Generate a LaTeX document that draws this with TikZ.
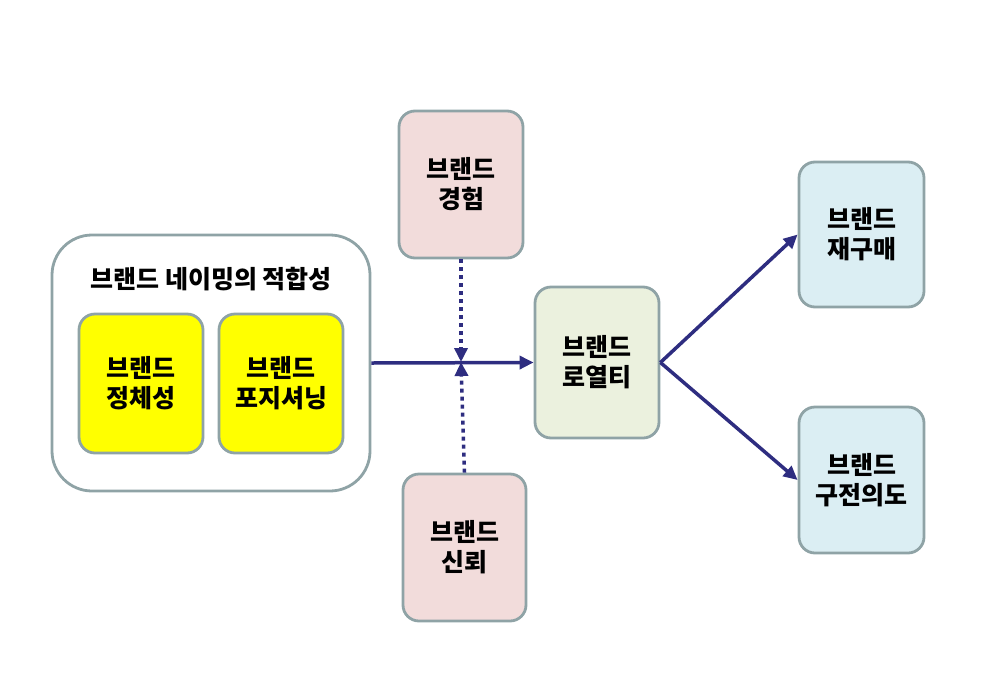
\documentclass[tikz,border=0pt]{standalone}
\usepackage{fontspec}
\setmainfont{Noto Sans CJK KR}
\usetikzlibrary{arrows.meta}
\definecolor{boxline}{HTML}{8FA3A6}
\definecolor{yellowbox}{HTML}{FFFF00}
\definecolor{pinkbox}{HTML}{F2DCDB}
\definecolor{greenbox}{HTML}{EBF1DE}
\definecolor{bluebox}{HTML}{DBEEF3}
\definecolor{navy}{HTML}{2E2D80}
\begin{document}
\begin{tikzpicture}[x=1pt,y=-1pt,
    box/.style={draw=boxline, line width=2.8pt, rounded corners=16pt, align=center,
      inner sep=0pt, font=\fontsize{25}{30}\selectfont\bfseries},
    link/.style={draw=navy, line width=3.5pt, -{Triangle[length=14pt,width=13pt]}},
    dots/.style={link, dash pattern=on 4pt off 4pt}]
    \useasboundingbox (0,0) rectangle (988,678);
    \node[box, fill=white, minimum width=318pt, minimum height=256pt, rounded corners=40pt] (A0) at (211,363) {};
    \node[font=\fontsize{25}{30}\selectfont\bfseries] (T0) at (211,279) {브랜드 네이밍의 적합성};
    \node[box, fill=yellowbox, minimum width=124pt, minimum height=139pt] (A1) at (141,383.5) {브랜드\\정체성};
    \node[box, fill=yellowbox, minimum width=124pt, minimum height=139pt] (A2) at (281,383.5) {브랜드\\포지셔닝};
    \node[box, fill=pinkbox, minimum width=124pt, minimum height=147pt] (B0) at (461,184.5) {브랜드\\경험};
    \node[box, fill=pinkbox, minimum width=123pt, minimum height=147pt] (B1) at (464.5,547.5) {브랜드\\신뢰};
    \node[box, fill=greenbox, minimum width=124pt, minimum height=151pt] (C0) at (597,362.5) {브랜드\\로열티};
    \node[box, fill=bluebox, minimum width=125pt, minimum height=145pt] (D0) at (861.5,234.5) {브랜드\\재구매};
    \node[box, fill=bluebox, minimum width=125pt, minimum height=146pt] (D1) at (861.5,480) {브랜드\\구전의도};
    \coordinate (X) at (461,362);
    \draw[link] (A0.east) -- (C0.west);
    \draw[dots] (B0.south) -- (X);
    \draw[dots] (B1.north) -- (X);
    \draw[link] (C0.east) -- (D0.west);
    \draw[link] (C0.east) -- (D1.west);
  \end{tikzpicture}
\end{document}
